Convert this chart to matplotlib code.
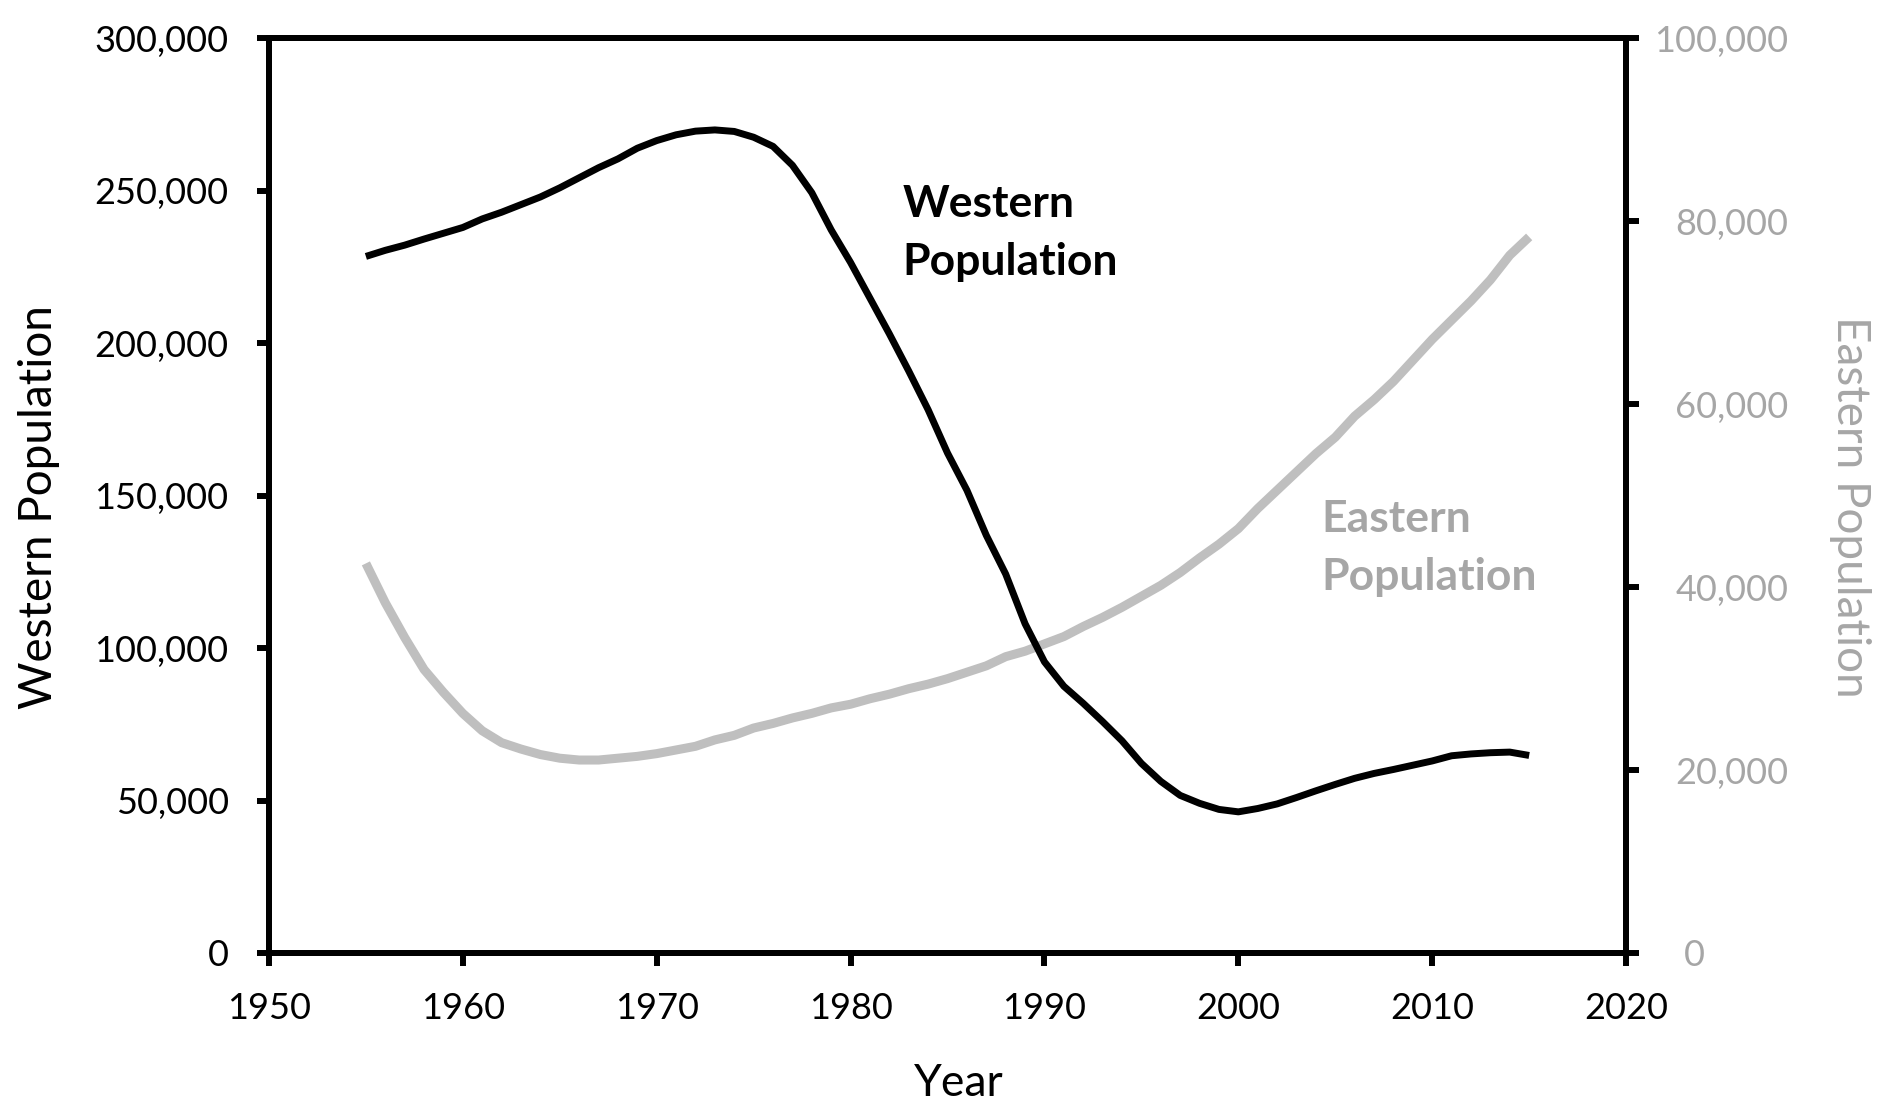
import matplotlib
matplotlib.use("Agg")
import matplotlib.pyplot as plt
import matplotlib.ticker as mticker

plt.rcParams['font.family'] = ['Lato', 'DejaVu Sans']

years = list(range(1955, 2016))

# thousands
western = [228.5, 230.5, 232.2, 234.2, 236.1, 238.0, 240.8, 243.0, 245.5, 248.0,
           251.0, 254.3, 257.6, 260.5, 264.0, 266.5, 268.4, 269.6, 270.0, 269.5,
           267.6, 264.6, 258.4, 249.4, 237.2, 226.5, 214.8, 203.1, 190.9, 178.2,
           164.0, 151.8, 137.0, 124.3, 108.0, 95.5, 87.5, 81.9, 75.9, 69.6,
           62.2, 56.3, 51.7, 49.1, 47.1, 46.3, 47.4, 48.9, 51.0, 53.2,
           55.3, 57.3, 58.9, 60.2, 61.6, 63.0, 64.7, 65.3, 65.7, 65.9, 64.8]

eastern = [42.6, 38.3, 34.5, 31.0, 28.5, 26.2, 24.3, 23.0, 22.3, 21.7,
           21.3, 21.1, 21.1, 21.3, 21.5, 21.8, 22.2, 22.6, 23.3, 23.8,
           24.6, 25.1, 25.7, 26.2, 26.8, 27.2, 27.8, 28.3, 28.9, 29.4,
           30.0, 30.7, 31.4, 32.4, 33.0, 33.8, 34.6, 35.7, 36.7, 37.8,
           39.0, 40.2, 41.6, 43.2, 44.7, 46.4, 48.6, 50.6, 52.6, 54.6,
           56.4, 58.7, 60.5, 62.5, 64.8, 67.1, 69.2, 71.3, 73.6, 76.3, 78.3]

western = [v * 1000 for v in western]
eastern = [v * 1000 for v in eastern]

gray_line = '#BFBFBF'
gray_text = '#A6A6A6'

fig = plt.figure(figsize=(18.86, 11.15), dpi=100)
ax = fig.add_axes([0.1426, 0.1453, 0.7196, 0.8202])
ax2 = ax.twinx()

ax.plot(years, western, color='black', lw=5, solid_capstyle='butt', zorder=3)
ax2.plot(years, eastern, color=gray_line, lw=6.5, solid_capstyle='butt', zorder=2)
ax.set_zorder(ax2.get_zorder() + 1)
ax.patch.set_visible(False)

ax.set_xlim(1950, 2020)
ax.set_ylim(0, 300000)
ax2.set_ylim(0, 100000)
ax.xaxis.set_major_locator(mticker.MultipleLocator(10))
ax.yaxis.set_major_locator(mticker.MultipleLocator(50000))
ax2.yaxis.set_major_locator(mticker.MultipleLocator(20000))
fmt = mticker.FuncFormatter(lambda v, p: '{:,.0f}'.format(v))
ax.yaxis.set_major_formatter(fmt)
# the right-hand zero sits further left in the original
ax2.yaxis.set_major_formatter(mticker.FuncFormatter(
    lambda v, p: '0' + '\u2007' * 4 if v == 0 else '{:,.0f}'.format(v)))

for a in (ax, ax2):
    for s in a.spines.values():
        s.set_linewidth(4.3)
        s.set_color('black')

ax.tick_params(axis='both', direction='out', length=9, width=4.3, labelsize=26, colors='black')
ax.tick_params(axis='y', pad=20)
ax.tick_params(axis='x', pad=19)
ax2.tick_params(axis='y', direction='out', length=9, width=4.3, labelsize=26,
                color='black', labelcolor=gray_text, pad=108)
labs = ax2.get_yticklabels()
for lab in labs:
    lab.set_horizontalalignment('right')
labs[0].set_color('#C4C4C4')

ax.set_xlabel('Year', fontsize=32, va='baseline')
ax.xaxis.set_label_coords(0.508, -0.1564)
ax.set_ylabel('Western Population', fontsize=33, va='center')
ax.yaxis.set_label_coords(-0.1694, 0.488)
ax2.set_ylabel('Eastern Population', fontsize=33, color=gray_text, rotation=270, va='center')
ax2.yaxis.set_label_coords(1.1647, 0.488)

ax.text(1982.68, 222400, 'Western\nPopulation', fontsize=32, fontweight='bold',
        color='black', ha='left', va='baseline', linespacing=1.55)
ax2.text(2004.3, 39700, 'Eastern\nPopulation', fontsize=32, fontweight='bold',
         color=gray_text, ha='left', va='baseline', linespacing=1.55)

fig.savefig('out.png', dpi=100)
